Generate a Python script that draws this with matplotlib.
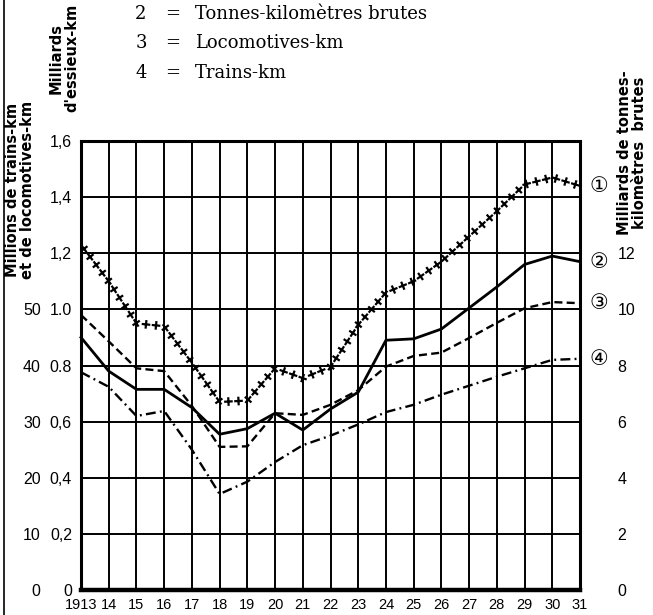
import numpy as np
import matplotlib.pyplot as plt
from matplotlib import patheffects as pe
from matplotlib.lines import Line2D

# Données (1913-1931)
years = list(range(1913, 1932))
year_labels = ["1913"] + [str(y % 100) for y in years[1:]]

# 1 = Milliards d'essieux-km
essieux_km = [1.23, 1.10, 0.95, 0.94, 0.81, 0.67, 0.675, 0.79, 0.755, 0.795,
              0.945, 1.06, 1.10, 1.17, 1.26, 1.35, 1.445, 1.47, 1.44]
# 2 = Tonnes-kilomètres brutes (milliards)
tonnes_km = [9.0, 7.8, 7.15, 7.15, 6.5, 5.55, 5.75, 6.3, 5.7, 6.45,
             7.05, 8.9, 8.95, 9.3, 10.05, 10.8, 11.6, 11.9, 11.7]
# 3 = Locomotives-km (millions)
locomotives_km = [49.0, 44.3, 39.5, 39.0, 32.8, 25.5, 25.6, 31.5, 31.2, 33.0,
                  35.6, 39.8, 41.7, 42.3, 44.9, 47.6, 50.2, 51.3, 51.1]
# 4 = Trains-km (millions)
trains_km = [38.8, 36.2, 31.0, 31.9, 25.0, 17.1, 19.3, 22.8, 25.8, 27.5,
             29.5, 31.7, 33.0, 34.8, 36.4, 38.0, 39.5, 41.0, 41.2]

essieux_ticks = [0, 0.2, 0.4, 0.6, 0.8, 1.0, 1.2, 1.4, 1.6]
essieux_labels = ["0", "0,2", "0,4", "0,6", "0.8", "1.0", "1,2", "1,4", "1,6"]
millions_ticks = [0, 10, 20, 30, 40, 50]
tonnes_ticks = [0, 2, 4, 6, 8, 10, 12]

legend_rows = [("2", "Tonnes-kilomètres brutes"),
               ("3", "Locomotives-km"),
               ("4", "Trains-km")]

W, H = 653, 615
tick_font = dict(family="Liberation Sans", fontsize=11.5)
title_font = dict(family="DejaVu Sans", fontsize=10.5, fontweight="bold")

fig = plt.figure(figsize=(W / 100, H / 100), dpi=100)
ax = fig.add_axes([81 / W, 25 / H, 499 / W, 449 / H])
ax.set_xlim(1913, 1931)
ax.set_ylim(0, 1.6)

# grille
ax.set_xticks(years)
ax.set_xticklabels(year_labels, family="Liberation Sans", fontsize=10.5)
ax.set_yticks(essieux_ticks)
ax.set_yticklabels(essieux_labels, **tick_font)
ax.tick_params(length=0)
ax.tick_params(axis="y", pad=6.5)
ax.tick_params(axis="x", pad=6)
ax.grid(True, color="black", linewidth=1.4)
for side in ax.spines:
    ax.spines[side].set_linewidth(2.2)
ax.spines["bottom"].set_linewidth(3.2)

# 1 : essieux-km, croix le long du tracé
ticks_fx = [pe.TickedStroke(spacing=7.2, angle=a, length=0.32, linewidth=1.6)
            for a in (0, 90, 180, -90)]
ax.plot(years, essieux_km, color="black", linewidth=1.5, path_effects=ticks_fx,
        clip_on=False)

# 2 : tonnes-km (axe de droite)
ax_t = ax.twinx()
ax_t.set_ylim(0, 16)
ax_t.plot(years, tonnes_km, color="black", linewidth=2.0, clip_on=False)
ax_t.set_yticks(tonnes_ticks)
ax_t.set_yticklabels([str(v) for v in tonnes_ticks], **tick_font)
ax_t.tick_params(length=0, pad=27)

# 3 et 4 : millions de trains-km / locomotives-km (axe extérieur gauche)
ax_m = ax.twinx()
ax_m.set_ylim(0, 80)
ax_m.plot(years, locomotives_km, color="black", linewidth=1.7,
          linestyle=(0, (3.4, 1.8)), clip_on=False)
ax_m.plot(years, trains_km, color="black", linewidth=1.7,
          linestyle=(0, (4.2, 1.8, 0.8, 1.8)), clip_on=False)
ax_m.set_yticks(millions_ticks)
ax_m.set_yticklabels([str(v) for v in millions_ticks], **tick_font)
ax_m.tick_params(axis="y", left=True, right=False, labelleft=True,
                 labelright=False, length=0, pad=29)

for a in (ax_t, ax_m):
    for side in a.spines:
        a.spines[side].set_visible(False)

# numéros cerclés au bout des courbes
ends = [(ax, essieux_km[-1], "\u2460"), (ax_t, tonnes_km[-1], "\u2461"),
        (ax_m, locomotives_km[-1], "\u2462"), (ax_m, trains_km[-1], "\u2463")]
for a, v, s in ends:
    a.annotate(s, xy=(years[-1], v), xytext=(7, 0), textcoords="offset points",
               ha="left", va="center", fontsize=15, family="DejaVu Sans",
               annotation_clip=False)

# titres des axes
fig.text(20 / W, 1 - 190 / H, "Millions de trains-km\net de locomotives-km",
         rotation=90, ha="center", va="center", linespacing=1.0, **title_font)
fig.text(64 / W, 1 - 58 / H, "Milliards\nd'essieux-km",
         rotation=90, ha="center", va="center", linespacing=1.0, **title_font)
fig.text(632 / W, 1 - 153 / H, "Milliards de tonnes-\nkilomètres  brutes",
         rotation=90, ha="center", va="center", linespacing=1.0, **title_font)

# légende en tête
for i, (num, label) in enumerate(legend_rows):
    y = 1 - (14 + 29.5 * i) / H
    fig.text(141 / W, y, num, ha="center", va="center", family="DejaVu Serif",
             fontsize=13)
    fig.text(173 / W, y, "=", ha="center", va="center", family="DejaVu Serif",
             fontsize=13)
    fig.text(195 / W, y, label, ha="left", va="center", family="DejaVu Serif",
             fontsize=13)

# bord de page à gauche
fig.add_artist(Line2D([4 / W, 4 / W], [0, 1], transform=fig.transFigure,
                      color="black", linewidth=1.2))

fig.savefig("out.png", dpi=100)
